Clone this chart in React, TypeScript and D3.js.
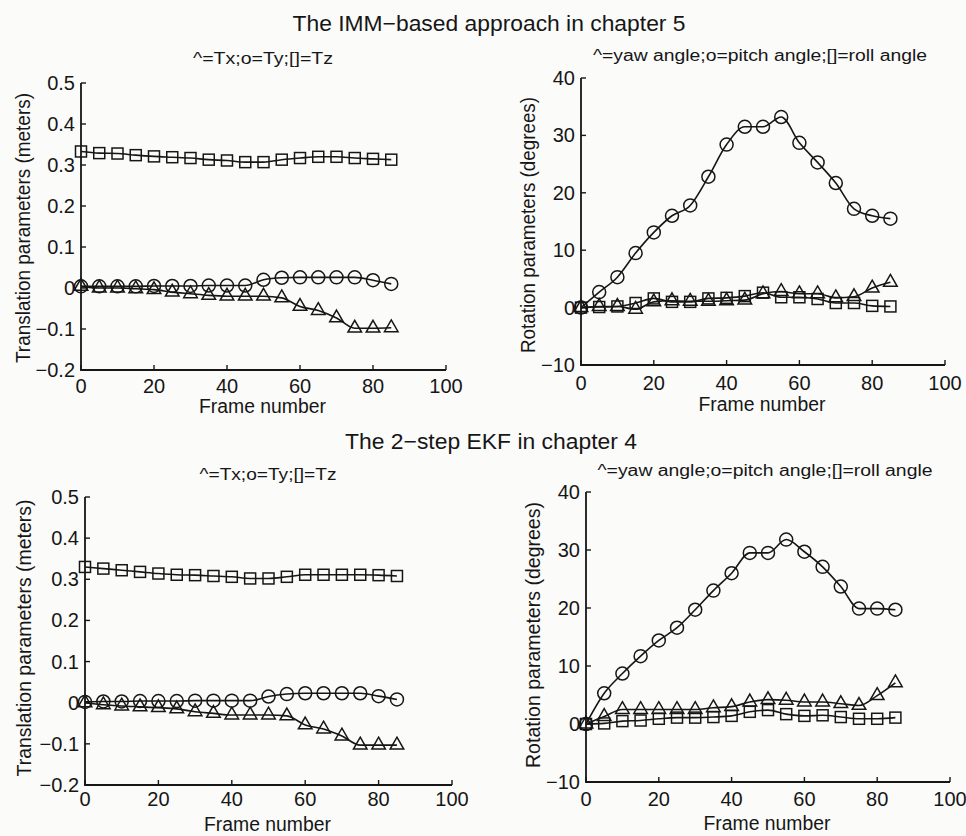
import React, { useRef, useEffect } from 'react';
import * as d3 from 'd3';

// frame numbers, markers every 5 frames
const frames = [0, 5, 10, 15, 20, 25, 30, 35, 40, 45, 50, 55, 60, 65, 70, 75, 80, 85];
const xTicks = [0, 20, 40, 60, 80, 100];
const transTicks = [-0.2, -0.1, 0, 0.1, 0.2, 0.3, 0.4, 0.5];
const rotTicks = [-10, 0, 10, 20, 30, 40];

// IMM-based approach (chapter 5)
const immTx = [0.004, 0, 0, -0.002, -0.004, -0.01, -0.014, -0.018, -0.02, -0.02, -0.02, -0.024, -0.045, -0.055, -0.073, -0.098, -0.098, -0.097];
const immTy = [0.004, 0.004, 0.004, 0.004, 0.005, 0.005, 0.005, 0.006, 0.006, 0.006, 0.02, 0.025, 0.026, 0.026, 0.026, 0.026, 0.019, 0.01];
const immTz = [0.333, 0.329, 0.328, 0.324, 0.321, 0.319, 0.317, 0.313, 0.311, 0.307, 0.307, 0.313, 0.317, 0.32, 0.32, 0.317, 0.315, 0.313];
const immYaw = [0, 0.2, 0.2, -0.3, 1.0, 1.2, 1.1, 1.1, 1.2, 1.3, 2.4, 2.8, 2.4, 2.4, 1.7, 1.9, 3.4, 4.4];
const immPitch = [0, 2.7, 5.3, 9.5, 13.1, 16.0, 17.8, 22.8, 28.4, 31.5, 31.5, 33.2, 28.7, 25.3, 21.7, 17.2, 16.0, 15.5];
const immRoll = [0, 0.1, 0.2, 0.8, 1.6, 1.0, 1.0, 1.6, 1.7, 2.0, 2.6, 1.8, 1.8, 1.5, 0.8, 0.8, 0.3, 0.2];

// 2-step EKF (chapter 4)
const ekfTx = [0, -0.005, -0.008, -0.01, -0.012, -0.015, -0.022, -0.026, -0.03, -0.03, -0.03, -0.032, -0.054, -0.064, -0.081, -0.103, -0.103, -0.103];
const ekfTy = [0.002, 0.003, 0.003, 0.004, 0.004, 0.004, 0.005, 0.005, 0.005, 0.005, 0.015, 0.021, 0.023, 0.023, 0.023, 0.023, 0.016, 0.008];
const ekfTz = [0.33, 0.326, 0.322, 0.318, 0.314, 0.311, 0.31, 0.308, 0.306, 0.302, 0.302, 0.306, 0.311, 0.311, 0.311, 0.311, 0.31, 0.308];
const ekfYaw = [0, 1.3, 2.5, 2.5, 2.5, 2.5, 2.5, 2.8, 3.0, 3.8, 4.2, 4.1, 3.8, 3.8, 3.5, 3.2, 4.9, 7.1];
const ekfPitch = [0, 5.3, 8.7, 11.7, 14.4, 16.6, 19.7, 23.0, 26.0, 29.5, 29.5, 31.8, 29.7, 27.1, 23.7, 19.9, 19.9, 19.7];
const ekfRoll = [0, 0.1, 0.5, 0.6, 0.9, 1.1, 1.1, 1.2, 1.4, 2.1, 2.4, 1.7, 1.4, 1.5, 1.2, 0.9, 0.9, 1.1];

const W = 966;
const H = 836;
const INK = '#161616';
const FONT = 'Liberation Sans, Arial, sans-serif';

type Panel = {
  x0: number; x1: number; yTop: number; yBot: number;
  domain: [number, number]; ticks: number[]; fmt: (v: number) => string;
  tri: number[]; circ: number[]; sq: number[];
  sub: string; subX: number; subY: number; subLen: number;
  ylab: string; ylabX: number; ylabY: number; ylabLen: number;
  xlabY: number; tickY: number;
};

const fmtTrans = (v: number) => (v === 0 ? '0' : d3.format('.1f')(v).replace('-', '\u2212'));
const fmtRot = (v: number) => String(v).replace('-', '\u2212');

const panels: Panel[] = [
  { x0: 81, x1: 446, yTop: 83, yBot: 370, domain: [-0.2, 0.5], ticks: transTicks, fmt: fmtTrans,
    tri: immTx, circ: immTy, sq: immTz,
    sub: '^=Tx;o=Ty;[]=Tz', subX: 263, subY: 64, subLen: 140,
    ylab: 'Translation parameters (meters)', ylabX: 30, ylabY: 228, ylabLen: 270,
    xlabY: 413, tickY: 393 },
  { x0: 581, x1: 945, yTop: 78, yBot: 365, domain: [-10, 40], ticks: rotTicks, fmt: fmtRot,
    tri: immYaw, circ: immPitch, sq: immRoll,
    sub: '^=yaw angle;o=pitch angle;[]=roll angle', subX: 760, subY: 61, subLen: 334,
    ylab: 'Rotation parameters (degrees)', ylabX: 535, ylabY: 225, ylabLen: 256,
    xlabY: 411, tickY: 390 },
  { x0: 85, x1: 452, yTop: 497, yBot: 785, domain: [-0.2, 0.5], ticks: transTicks, fmt: fmtTrans,
    tri: ekfTx, circ: ekfTy, sq: ekfTz,
    sub: '^=Tx;o=Ty;[]=Tz', subX: 268, subY: 480, subLen: 137,
    ylab: 'Translation parameters (meters)', ylabX: 31, ylabY: 638, ylabLen: 277,
    xlabY: 831, tickY: 806 },
  { x0: 586, x1: 950, yTop: 492, yBot: 782, domain: [-10, 40], ticks: rotTicks, fmt: fmtRot,
    tri: ekfYaw, circ: ekfPitch, sq: ekfRoll,
    sub: '^=yaw angle;o=pitch angle;[]=roll angle', subX: 765, subY: 476, subLen: 335,
    ylab: 'Rotation parameters (degrees)', ylabX: 540, ylabY: 635, ylabLen: 266,
    xlabY: 830, tickY: 806 },
];

const App = () => {
  const svgRef = useRef<SVGSVGElement | null>(null);

  useEffect(() => {
    if (!svgRef.current) return;
    const svg = d3.select(svgRef.current);
    svg.selectAll('*').remove();

    svg.append('rect').attr('width', W).attr('height', H).attr('fill', '#fbfbfa');

    // main titles
    svg.append('text')
      .attr('x', 489).attr('y', 31)
      .attr('text-anchor', 'middle')
      .attr('font-family', FONT).attr('font-size', 22).attr('fill', INK)
      .attr('textLength', 393).attr('lengthAdjust', 'spacingAndGlyphs')
      .text('The IMM\u2212based approach in chapter 5');
    svg.append('text')
      .attr('x', 491).attr('y', 449)
      .attr('text-anchor', 'middle')
      .attr('font-family', FONT).attr('font-size', 22).attr('fill', INK)
      .attr('textLength', 292).attr('lengthAdjust', 'spacingAndGlyphs')
      .text('The 2\u2212step EKF in chapter 4');

    panels.forEach(p => {
      const x = d3.scaleLinear().domain([0, 100]).range([p.x0, p.x1]);
      const y = d3.scaleLinear().domain(p.domain).range([p.yBot, p.yTop]);
      const g = svg.append('g');

      // axes: left + bottom only, ticks pointing in
      g.append('path')
        .attr('d', `M${p.x0},${p.yTop}V${p.yBot}H${p.x1}`)
        .attr('fill', 'none').attr('stroke', INK).attr('stroke-width', 1.8);

      xTicks.forEach(t => {
        g.append('line')
          .attr('x1', x(t)).attr('x2', x(t))
          .attr('y1', p.yBot).attr('y2', p.yBot - 5)
          .attr('stroke', INK).attr('stroke-width', 1.4);
        g.append('text')
          .attr('x', x(t)).attr('y', p.tickY)
          .attr('text-anchor', 'middle')
          .attr('font-family', FONT).attr('font-size', 20).attr('fill', INK)
          .text(t);
      });

      p.ticks.forEach(t => {
        g.append('line')
          .attr('x1', p.x0).attr('x2', p.x0 + 5)
          .attr('y1', y(t)).attr('y2', y(t))
          .attr('stroke', INK).attr('stroke-width', 1.4);
        g.append('text')
          .attr('x', p.x0 - 6).attr('y', y(t) + 7)
          .attr('text-anchor', 'end')
          .attr('font-family', FONT).attr('font-size', 20).attr('fill', INK)
          .text(p.fmt(t));
      });

      // subtitle, axis labels
      g.append('text')
        .attr('x', p.subX).attr('y', p.subY)
        .attr('text-anchor', 'middle')
        .attr('font-family', FONT).attr('font-size', 16).attr('fill', INK)
        .attr('textLength', p.subLen).attr('lengthAdjust', 'spacingAndGlyphs')
        .text(p.sub);
      g.append('text')
        .attr('x', (p.x0 + p.x1) / 2 - 1).attr('y', p.xlabY)
        .attr('text-anchor', 'middle')
        .attr('font-family', FONT).attr('font-size', 20).attr('fill', INK)
        .attr('textLength', 127).attr('lengthAdjust', 'spacingAndGlyphs')
        .text('Frame number');
      g.append('text')
        .attr('transform', `translate(${p.ylabX},${p.ylabY}) rotate(-90)`)
        .attr('text-anchor', 'middle')
        .attr('font-family', FONT).attr('font-size', 20).attr('fill', INK)
        .attr('textLength', p.ylabLen).attr('lengthAdjust', 'spacingAndGlyphs')
        .text(p.ylab);

      const line = d3.line<number>()
        .x((_, i) => x(frames[i]))
        .y(d => y(d))
        .curve(d3.curveMonotoneX);

      [p.sq, p.circ, p.tri].forEach(series => {
        g.append('path')
          .datum(series)
          .attr('d', line)
          .attr('fill', 'none')
          .attr('stroke', INK)
          .attr('stroke-width', 1.6);
      });

      // markers, unfilled like matlab
      g.selectAll('.sq')
        .data(p.sq)
        .enter()
        .append('rect')
        .attr('x', (_, i) => x(frames[i]) - 5.5)
        .attr('y', d => y(d) - 5.5)
        .attr('width', 11).attr('height', 11)
        .attr('fill', 'none').attr('stroke', INK).attr('stroke-width', 1.5);

      g.selectAll('.circ')
        .data(p.circ)
        .enter()
        .append('circle')
        .attr('cx', (_, i) => x(frames[i]))
        .attr('cy', d => y(d))
        .attr('r', 6.5)
        .attr('fill', 'none').attr('stroke', INK).attr('stroke-width', 1.5);

      const tri = d3.symbol().type(d3.symbolTriangle).size(80);
      g.selectAll('.tri')
        .data(p.tri)
        .enter()
        .append('path')
        .attr('d', tri)
        .attr('transform', (d, i) => `translate(${x(frames[i])},${y(d)})`)
        .attr('fill', 'none').attr('stroke', INK).attr('stroke-width', 1.5);
    });
  }, []);

  return (
    <svg
      ref={svgRef}
      width={W}
      height={H}
      style={{ position: 'absolute', left: 0, top: 0, display: 'block' }}
    />
  );
};

export default App;
